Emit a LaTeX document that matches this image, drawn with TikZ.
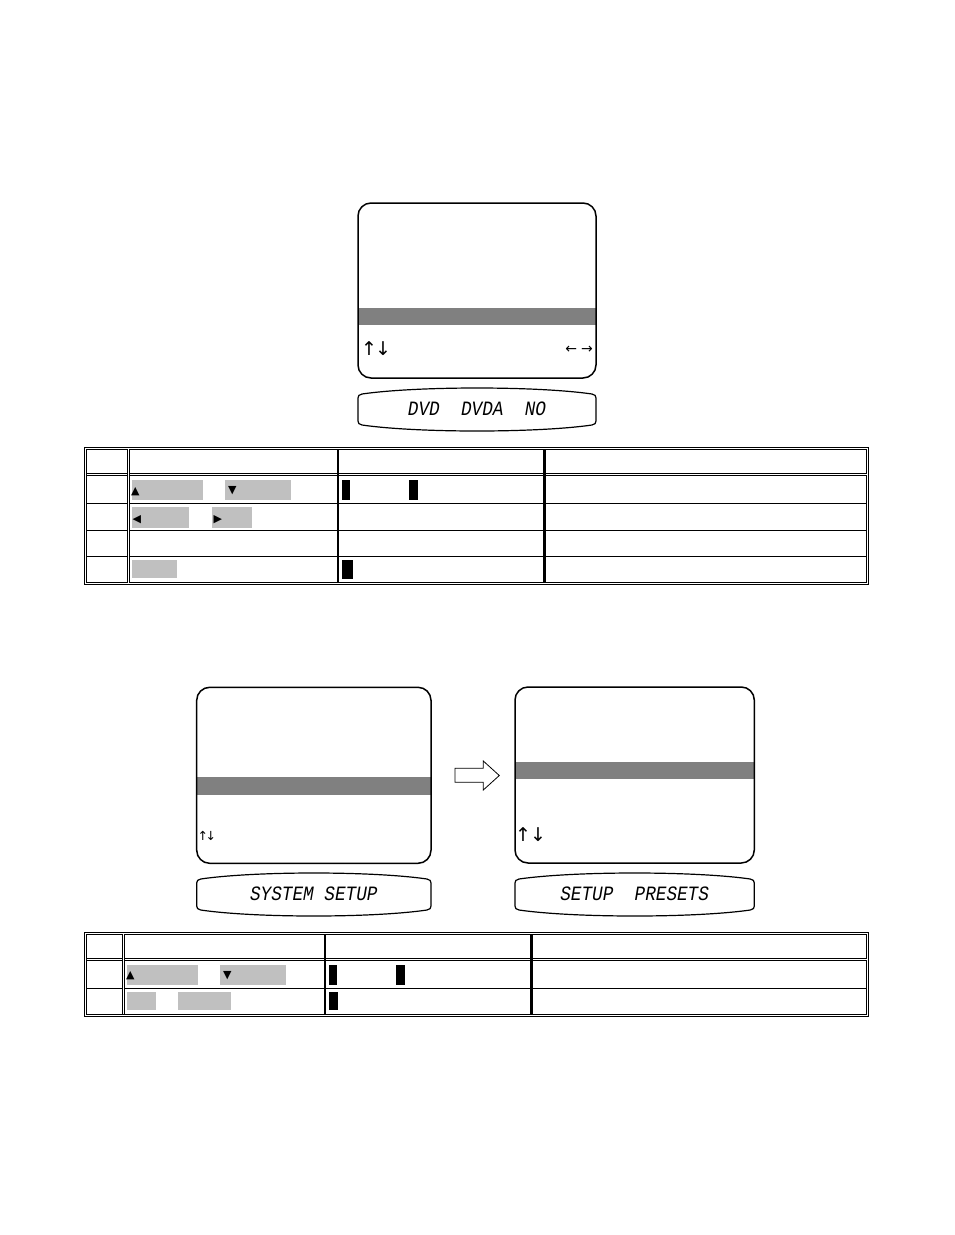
\documentclass[tikz,border=0pt]{standalone}
\usepackage{fontspec}
\usepackage{tikz}
\usepackage{xcolor}
\usetikzlibrary{arrows.meta}

\newfontfamily\symfont{DejaVu Sans}
\newfontfamily\lcdfont{Liberation Mono}
\definecolor{bargray}{HTML}{808080}
\definecolor{keygray}{HTML}{C0C0C0}

\tikzset{
  screen/.style={draw, line width=1.5pt, rounded corners=13pt, inner sep=0pt},
  hibar/.style={fill=bargray, inner sep=0pt},
  keybox/.style={fill=keygray, inner sep=0pt, anchor=north west},
  cursor/.style={fill=black, inner sep=0pt, anchor=north west},
  tri/.style={font=\symfont\fontsize{11}{11}\selectfont, inner sep=0pt, anchor=west},
  navtxt/.style={font=\symfont\fontsize{19}{19}\selectfont, inner sep=0pt},
  lcd/.style={font=\lcdfont\itshape\fontsize{17.7}{18}\selectfont, inner sep=0pt},
  frameline/.style={double, double distance=1.2pt, line width=0.8pt},
  colsep/.style={line width=2.6pt},
  rowline/.style={line width=0.9pt}
}

% front panel display, #1 left x, #2 right x, #3 top y
\newcommand{\lcdpanel}[3]{%
  \draw[line width=1.2pt] ({#1+4},{#3+6})
    .. controls ({#1+0.25*(#2-#1)},{#3-2}) and ({#2-0.25*(#2-#1)},{#3-2}) .. ({#2-4},{#3+6})
    .. controls ({#2-1},{#3+6.5}) and ({#2},{#3+8}) .. ({#2},{#3+10})
    -- ({#2},{#3+33})
    .. controls ({#2},{#3+35}) and ({#2-1},{#3+36.5}) .. ({#2-4},{#3+37})
    .. controls ({#2-0.25*(#2-#1)},{#3+45}) and ({#1+0.25*(#2-#1)},{#3+45}) .. ({#1+4},{#3+37})
    .. controls ({#1+1},{#3+36.5}) and ({#1},{#3+35}) .. ({#1},{#3+33})
    -- ({#1},{#3+10})
    .. controls ({#1},{#3+8}) and ({#1+1},{#3+6.5}) .. ({#1+4},{#3+6}) -- cycle;}

\begin{document}
\begin{tikzpicture}[x=1pt, y=-1pt]
    \fill[white] (0,0) rectangle (954,1235);

    % first screen
    \node[hibar, minimum width=238pt, minimum height=17pt] (barA) at (477,316.5) {};
    \node[screen, minimum width=238pt, minimum height=175pt] (scrA) at (477,290.5) {};
    \node[navtxt, anchor=west] (updnA) at (361,349) {↑\hspace{-2pt}↓};
    \node[navtxt, font=\symfont\fontsize{14}{14}\selectfont, anchor=east] (lrA) at (593,350) {←\hspace{4pt}→};
    \lcdpanel{358}{596}{388}
    \node[lcd] (dispA) at (477,409) {\scalebox{1}[1.15]{DVD\ \ DVDA\ \ NO}};

    % first table
    \node[keybox, minimum width=71pt, minimum height=20pt] (kUpA) at (131.7,480) {};
    \node[keybox, minimum width=65.7pt, minimum height=20pt] (kDnA) at (225,480) {};
    \node[tri] (tUpA) at (131,491.5) {▲};
    \node[tri] (tDnA) at (228,491) {▼};
    \node[cursor, minimum width=7.6pt, minimum height=20pt] (curA1) at (341.7,480) {};
    \node[cursor, minimum width=8.7pt, minimum height=20pt] (curA2) at (409,480) {};
    \node[keybox, minimum width=57.3pt, minimum height=21pt] (kLtA) at (131.7,506.7) {};
    \node[keybox, minimum width=40pt, minimum height=21pt] (kRtA) at (212,506.7) {};
    \node[tri] (tLtA) at (132.5,519.5) {◀};
    \node[tri] (tRtA) at (213.5,519.5) {▶};
    \node[keybox, minimum width=45.3pt, minimum height=17.7pt] (kEnA) at (131.7,560) {};
    \node[cursor, minimum width=11pt, minimum height=19pt] (curA3) at (341.7,560) {};

    \draw[frameline] (85.7,448.3) rectangle (867.7,583.5);
    \draw[frameline] (86.7,474.7) -- (866.7,474.7);
    \foreach \y in {503,530.7,556}
        \draw[rowline] (86.7,\y) -- (866.7,\y);
    \draw[frameline] (128.3,449.3) -- (128.3,582.5);
    \draw[colsep] (338,449.3) -- (338,582.5);
    \draw[colsep] (544.7,449.3) -- (544.7,582.5);

    % second and third screen
    \node[hibar, minimum width=234.3pt, minimum height=17.7pt] (barB) at (313.85,785.85) {};
    \node[screen, minimum width=234.3pt, minimum height=176pt] (scrB) at (313.85,775.3) {};
    \node[navtxt, font=\symfont\fontsize{12.5}{12.5}\selectfont, anchor=west] (updnB) at (197.5,835.5) {↑\hspace{-2.5pt}↓};
    \lcdpanel{196.7}{431}{873}
    \node[lcd] (dispB) at (313.85,894) {\scalebox{1}[1.15]{SYSTEM SETUP}};

    \draw[line width=0.8pt] (455,768.3) -- (483.3,768.3) -- (483.3,761) -- (499.3,775.5)
        -- (483.3,790) -- (483.3,782.3) -- (455,782.3) -- cycle;

    \node[hibar, minimum width=239.3pt, minimum height=17.3pt] (barC) at (634.65,770.3) {};
    \node[screen, minimum width=239.3pt, minimum height=176pt] (scrC) at (634.65,775) {};
    \node[navtxt, anchor=west] (updnC) at (515,835) {↑\hspace{-1pt}↓};
    \lcdpanel{515}{754.3}{873}
    \node[lcd] (dispC) at (634.65,894) {\scalebox{1}[1.15]{SETUP\ \ PRESETS}};

    % second table
    \node[keybox, minimum width=71.3pt, minimum height=20pt] (kUpB) at (126.7,965) {};
    \node[keybox, minimum width=66pt, minimum height=20pt] (kDnB) at (220,965) {};
    \node[tri] (tUpB) at (126,976) {▲};
    \node[tri] (tDnB) at (223,976) {▼};
    \node[cursor, minimum width=8.4pt, minimum height=20pt] (curB1) at (328.3,965) {};
    \node[cursor, minimum width=9pt, minimum height=20pt] (curB2) at (396,965) {};
    \node[keybox, minimum width=29.3pt, minimum height=17.6pt] (kSetB) at (126.7,991.7) {};
    \node[keybox, minimum width=53pt, minimum height=17.6pt] (kEnB) at (178,991.7) {};
    \node[cursor, minimum width=9.4pt, minimum height=18.3pt] (curB3) at (328.3,991.7) {};

    \draw[frameline] (85.7,933.3) rectangle (867.7,1015.2);
    \draw[frameline] (86.7,959.7) -- (866.7,959.7);
    \draw[rowline] (86.7,988) -- (866.7,988);
    \draw[frameline] (123.3,934.3) -- (123.3,1014.2);
    \draw[colsep] (325,934.3) -- (325,1014.2);
    \draw[colsep] (531.7,934.3) -- (531.7,1014.2);
\end{tikzpicture}
\end{document}
